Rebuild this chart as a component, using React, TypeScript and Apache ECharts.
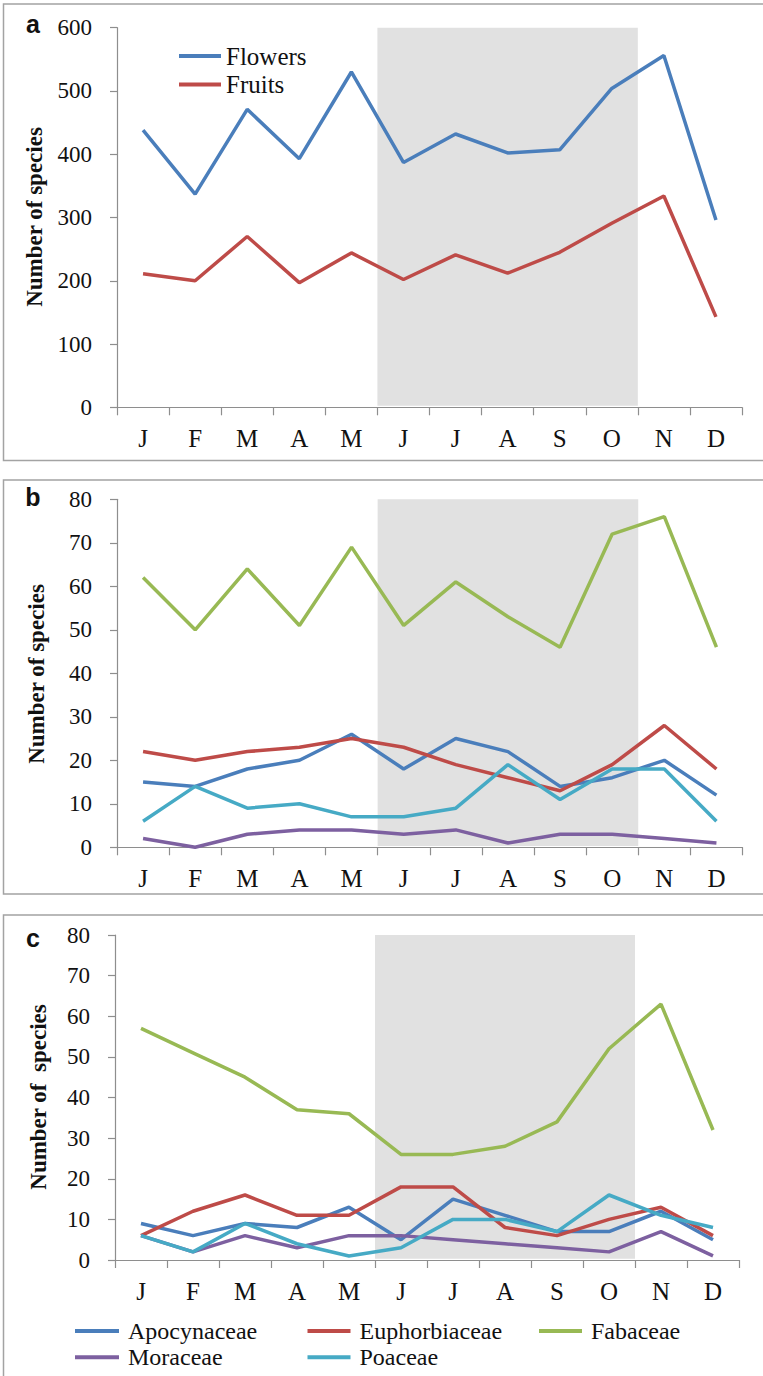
import React, { useEffect, useRef } from 'react';
import * as echarts from 'echarts';

const months = ['J', 'F', 'M', 'A', 'M', 'J', 'J', 'A', 'S', 'O', 'N', 'D'];

// Panel a
const flowers = [438, 337, 471, 393, 530, 387, 432, 402, 407, 504, 556, 296];
const fruits = [211, 200, 270, 197, 244, 202, 241, 212, 245, 291, 334, 143];

// Panel b (flowering species by family)
const bApocynaceae = [15, 14, 18, 20, 26, 18, 25, 22, 14, 16, 20, 12];
const bEuphorbiaceae = [22, 20, 22, 23, 25, 23, 19, 16, 13, 19, 28, 18];
const bFabaceae = [62, 50, 64, 51, 69, 51, 61, 53, 46, 72, 76, 46];
const bMoraceae = [2, 0, 3, 4, 4, 3, 4, 1, 3, 3, 2, 1];
const bPoaceae = [6, 14, 9, 10, 7, 7, 9, 19, 11, 18, 18, 6];

// Panel c (fruiting species by family)
const cApocynaceae = [9, 6, 9, 8, 13, 5, 15, 11, 7, 7, 12, 5];
const cEuphorbiaceae = [6, 12, 16, 11, 11, 18, 18, 8, 6, 10, 13, 6];
const cFabaceae = [57, 51, 45, 37, 36, 26, 26, 28, 34, 52, 63, 32];
const cMoraceae = [6, 2, 6, 3, 6, 6, 5, 4, 3, 2, 7, 1];
const cPoaceae = [6, 2, 9, 4, 1, 3, 10, 10, 7, 16, 11, 8];

// Axis ranges
const yRangeA = { min: 0, max: 600, interval: 100 };
const yRangeBC = { min: 0, max: 80, interval: 10 };

// Shaded months (June–October), in month-boundary units
const shadeMonths = [5, 10];

const familyNames = ['Apocynaceae', 'Euphorbiaceae', 'Fabaceae', 'Moraceae', 'Poaceae'];
const familyColors = ['#4A7EBB', '#BE4B48', '#98B954', '#7D60A0', '#46AAC5'];
const flowerFruitNames = ['Flowers', 'Fruits'];
const flowerFruitColors = ['#4A7EBB', '#BE4B48'];

const SERIF = 'Liberation Serif, Times New Roman, serif';
const SANS = 'Liberation Sans, Arial, sans-serif';

export default function App() {
  const ref = useRef<HTMLDivElement>(null);

  useEffect(() => {
    if (!ref.current) return;
    const chart = echarts.init(ref.current, null, { renderer: 'svg' });

    const grids = [
      { left: 117, top: 27.7, width: 625, height: 379.6 },
      { left: 117, top: 499.3, width: 625.5, height: 348 },
      { left: 115, top: 935, width: 624, height: 325 },
    ];
    const axisGray = '#8E8E8E';

    const catAxis = (i: number) => ({
      type: 'category',
      gridIndex: i,
      data: months,
      boundaryGap: true,
      axisLine: { show: true, lineStyle: { color: axisGray, width: 1.2 } },
      axisTick: { show: true, inside: false, length: 8, interval: 0, lineStyle: { color: axisGray, width: 1.2 } },
      axisLabel: { interval: 0, margin: 19, color: '#111', fontFamily: SERIF, fontSize: 25 },
      splitLine: { show: false },
    });
    const hiddenX = (i: number) => ({
      type: 'value',
      gridIndex: i,
      min: 0,
      max: 12,
      show: false,
    });
    const valAxis = (i: number, r: { min: number; max: number; interval: number }) => ({
      type: 'value',
      gridIndex: i,
      min: r.min,
      max: r.max,
      interval: r.interval,
      axisLine: { show: true, lineStyle: { color: axisGray, width: 1.2 } },
      axisTick: { show: true, inside: false, length: 7, lineStyle: { color: axisGray, width: 1.2 } },
      axisLabel: { margin: 25, color: '#111', fontFamily: SERIF, fontSize: 23 },
      splitLine: { show: false },
    });

    const shade = (i: number, yMax: number) => ({
      type: 'line',
      name: 'shade' + i,
      xAxisIndex: 3 + i,
      yAxisIndex: i,
      data: [],
      silent: true,
      z: 1,
      markArea: {
        silent: true,
        itemStyle: { color: '#E1E1E1' },
        data: [[{ xAxis: shadeMonths[0], yAxis: yMax * 1.003 }, { xAxis: shadeMonths[1], yAxis: yMax * 0.004 }]],
      },
    });

    const line = (name: string, color: string, data: number[], i: number) => ({
      type: 'line',
      name,
      xAxisIndex: i,
      yAxisIndex: i,
      data,
      symbol: 'none',
      z: 3,
      lineStyle: { color, width: 3.5 },
      itemStyle: { color },
    });

    const bSeries = [bApocynaceae, bEuphorbiaceae, bFabaceae, bMoraceae, bPoaceae];
    const cSeries = [cApocynaceae, cEuphorbiaceae, cFabaceae, cMoraceae, cPoaceae];

    const series: any[] = [
      shade(0, yRangeA.max),
      shade(1, yRangeBC.max),
      shade(2, yRangeBC.max),
      line(flowerFruitNames[0], flowerFruitColors[0], flowers, 0),
      line(flowerFruitNames[1], flowerFruitColors[1], fruits, 0),
      ...bSeries.map((d, k) => line(familyNames[k], familyColors[k], d, 1)),
      ...cSeries.map((d, k) => line(familyNames[k], familyColors[k], d, 2)),
    ];

    const legendBase = {
      orient: 'vertical',
      padding: 0,
      icon: 'rect',
      selectedMode: false,
    };

    const yTitle = (x: number, y: number, text: string) => ({
      type: 'text',
      x,
      y,
      rotation: Math.PI / 2,
      style: {
        text,
        font: 'bold 23px ' + SERIF,
        fill: '#111',
        align: 'center',
        verticalAlign: 'middle',
      },
    });
    const panelLetter = (x: number, y: number, text: string) => ({
      type: 'text',
      x,
      y,
      style: {
        text,
        font: 'bold 25px ' + SANS,
        fill: '#111',
        align: 'center',
        verticalAlign: 'middle',
      },
    });
    const box = (y: number, h: number) => ({
      type: 'rect',
      shape: { x: 3.5, y, width: 800, height: h },
      style: { fill: 'none', stroke: '#A3A3A3', lineWidth: 1.5 },
      silent: true,
    });

    const famLegendText = { fontFamily: SERIF, color: '#111', fontSize: 24, lineHeight: 26, padding: [0, 0, 0, 4] };

    chart.setOption({
      animation: false,
      backgroundColor: '#fff',
      grid: grids,
      xAxis: [catAxis(0), catAxis(1), catAxis(2), hiddenX(0), hiddenX(1), hiddenX(2)],
      yAxis: [valAxis(0, yRangeA), valAxis(1, yRangeBC), valAxis(2, yRangeBC)],
      legend: [
        {
          ...legendBase,
          left: 179,
          top: 42,
          itemWidth: 42,
          itemHeight: 4,
          itemGap: 0.5,
          data: flowerFruitNames,
          textStyle: { fontFamily: SERIF, color: '#111', fontSize: 25, lineHeight: 28 },
        },
        {
          ...legendBase,
          left: 75,
          top: 1318,
          itemWidth: 44,
          itemHeight: 4,
          itemGap: 0.3,
          data: [familyNames[0], familyNames[3]],
          textStyle: famLegendText,
        },
        {
          ...legendBase,
          left: 307.5,
          top: 1318,
          itemWidth: 43,
          itemHeight: 4,
          itemGap: 0.3,
          data: [familyNames[1], familyNames[4]],
          textStyle: famLegendText,
        },
        {
          ...legendBase,
          left: 539,
          top: 1318,
          itemWidth: 43,
          itemHeight: 4,
          itemGap: 0.3,
          data: [familyNames[2]],
          textStyle: famLegendText,
        },
      ],
      graphic: [
        box(4, 456.5),
        box(480, 414),
        box(915, 480),
        panelLetter(33, 24, 'a'),
        panelLetter(33, 497, 'b'),
        panelLetter(33, 938, 'c'),
        yTitle(34, 217, 'Number of species'),
        yTitle(36.5, 674, 'Number of species'),
        yTitle(38, 1097, 'Number of  species'),
      ],
      series,
    });

    return () => chart.dispose();
  }, []);

  return (
    <div
      ref={ref}
      style={{ position: 'absolute', left: 0, top: 0, width: 763, height: 1376, background: '#fff' }}
    />
  );
}
